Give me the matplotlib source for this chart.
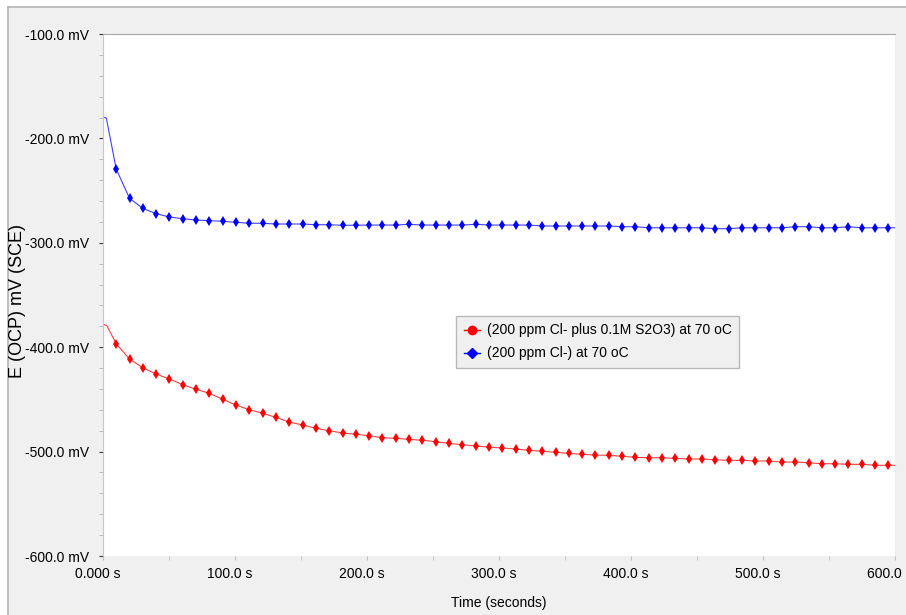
import numpy as np
import matplotlib.pyplot as plt
from matplotlib.lines import Line2D
from matplotlib.ticker import MultipleLocator, FuncFormatter
import matplotlib.transforms as mtransforms

# OCP readings, sampled about every 10 s (first marker ~10 s, last ~595 s)
t_marks = np.linspace(10, 595, 59)

# (200 ppm Cl-) at 70 oC
blue_start_t = [0.0, 2.5]
blue_start_v = [-179.5, -180.5]
blue_v = [
    -229.3, -257.4, -267.0, -272.1, -275.3, -276.9, -278.2, -278.8, -279.4, -280.4,
    -281.3, -281.3, -282.0, -282.0, -282.0, -282.7, -282.7, -283.2, -283.2, -283.0,
    -283.0, -283.0, -282.3, -283.0, -283.0, -283.0, -283.0, -282.3, -283.0, -283.0,
    -283.0, -283.0, -283.9, -283.9, -283.9, -283.9, -283.9, -283.9, -284.6, -284.6,
    -285.6, -285.6, -285.6, -285.6, -285.6, -286.5, -286.5, -285.6, -285.6, -285.6,
    -285.6, -284.6, -284.6, -285.6, -285.6, -284.6, -285.6, -285.6, -285.6,
]

# (200 ppm Cl- plus 0.1M S2O3) at 70 oC
red_start_t = [0.0, 3.0]
red_start_v = [-377.9, -379.5]
red_v = [
    -396.7, -411.3, -419.7, -425.7, -430.5, -435.9, -440.3, -444.2, -449.9, -455.4,
    -459.9, -463.3, -467.2, -471.7, -474.5, -477.7, -480.0, -482.2, -483.4, -484.8,
    -486.7, -487.3, -488.3, -489.2, -490.5, -492.1, -493.4, -494.7, -495.6, -496.6,
    -497.5, -498.8, -499.7, -500.7, -501.7, -502.6, -503.3, -503.6, -504.5, -505.5,
    -505.9, -505.9, -506.5, -507.1, -507.1, -507.8, -508.4, -508.4, -509.0, -509.0,
    -510.0, -510.0, -510.7, -511.6, -511.6, -512.2, -512.2, -513.1, -513.1,
]

labels = ['(200 ppm Cl- plus 0.1M S2O3) at 70 oC', '(200 ppm Cl-) at 70 oC']

plt.rcParams['font.family'] = ['Liberation Sans', 'DejaVu Sans']
fs = 9.5

bg = '#f0f0f0'
fig = plt.figure(figsize=(9.06, 6.15), dpi=100, facecolor='white')

# gray panel with a thin frame on top and left
fig.patches.append(plt.Rectangle((8 / 906, 0), 1, 1 - 7 / 615, transform=fig.transFigure,
                                 facecolor=bg, edgecolor='none', zorder=-10))
fig.add_artist(Line2D([8 / 906, 1], [1 - 7 / 615, 1 - 7 / 615], color='#b4b4b4', lw=1.2,
                      transform=fig.transFigure))
fig.add_artist(Line2D([8 / 906, 8 / 906], [0, 1 - 7 / 615], color='#b4b4b4', lw=1.2,
                      transform=fig.transFigure))

ax = fig.add_axes([103 / 906, 59 / 615, 792 / 906, 522 / 615])
ax.set_facecolor('white')

for st, sv, v, c in [(red_start_t, red_start_v, red_v, '#ff0000'),
                     (blue_start_t, blue_start_v, blue_v, '#0000ff')]:
    tt = list(st) + list(t_marks) + [600.0]
    vv = list(sv) + list(v) + [v[-1]]
    ax.plot(tt, vv, color=c, lw=0.8, alpha=0.75)
    ax.plot(t_marks, v, linestyle='none', marker='d', markersize=5,
            color=c, markeredgewidth=0)

ax.set_xlim(0, 600)
ax.set_ylim(-600, -100)
ax.xaxis.set_major_locator(MultipleLocator(100))
ax.xaxis.set_minor_locator(MultipleLocator(50))
ax.yaxis.set_major_locator(MultipleLocator(100))
ax.yaxis.set_minor_locator(MultipleLocator(20))
ax.xaxis.set_major_formatter(FuncFormatter(lambda x, p: '0.000 s' if x == 0 else f'{x:.1f} s'))
ax.yaxis.set_major_formatter(FuncFormatter(lambda y, p: f'{y:.1f} mV'))

for s in ['right', 'bottom']:
    ax.spines[s].set_visible(False)
ax.spines['left'].set_color('#c8c8c8')
ax.spines['top'].set_color('#a8a8a8')

ax.tick_params(axis='y', which='major', length=3, color='#333333', labelsize=fs + 0.5, pad=7)
ax.tick_params(axis='y', which='minor', length=3, color='#b0b0b0')
ax.tick_params(axis='x', which='both', length=3, color='#c0c0c0', labelsize=fs + 0.5, pad=5)

# x tick labels sit a little left of their ticks
shift = mtransforms.ScaledTranslation(-5 / 100, 0, fig.dpi_scale_trans)
for lab in ax.get_xticklabels():
    lab.set_transform(lab.get_transform() + shift)

ax.set_xlabel('Time (seconds)', fontsize=fs + 0.5, labelpad=11)
fig.text(18 / 906, 1 - 301 / 615, 'E (OCP) mV (SCE)', rotation=90, fontsize=13,
         ha='center', va='center')

handles = [Line2D([], [], color='#ff0000', marker='o', markersize=6, lw=1),
           Line2D([], [], color='#0000ff', marker='D', markersize=5, lw=1)]
leg = ax.legend(handles, labels, loc='upper left', bbox_to_anchor=(0.4457, 0.4603),
                borderaxespad=0, fontsize=fs + 0.5, handlelength=1.2, handletextpad=0.45,
                labelspacing=0.65, borderpad=0.55, fancybox=False, framealpha=1)
leg.get_frame().set_facecolor(bg)
leg.get_frame().set_edgecolor('#b8b8b8')

fig.savefig('out.png', dpi=100, facecolor='white')
